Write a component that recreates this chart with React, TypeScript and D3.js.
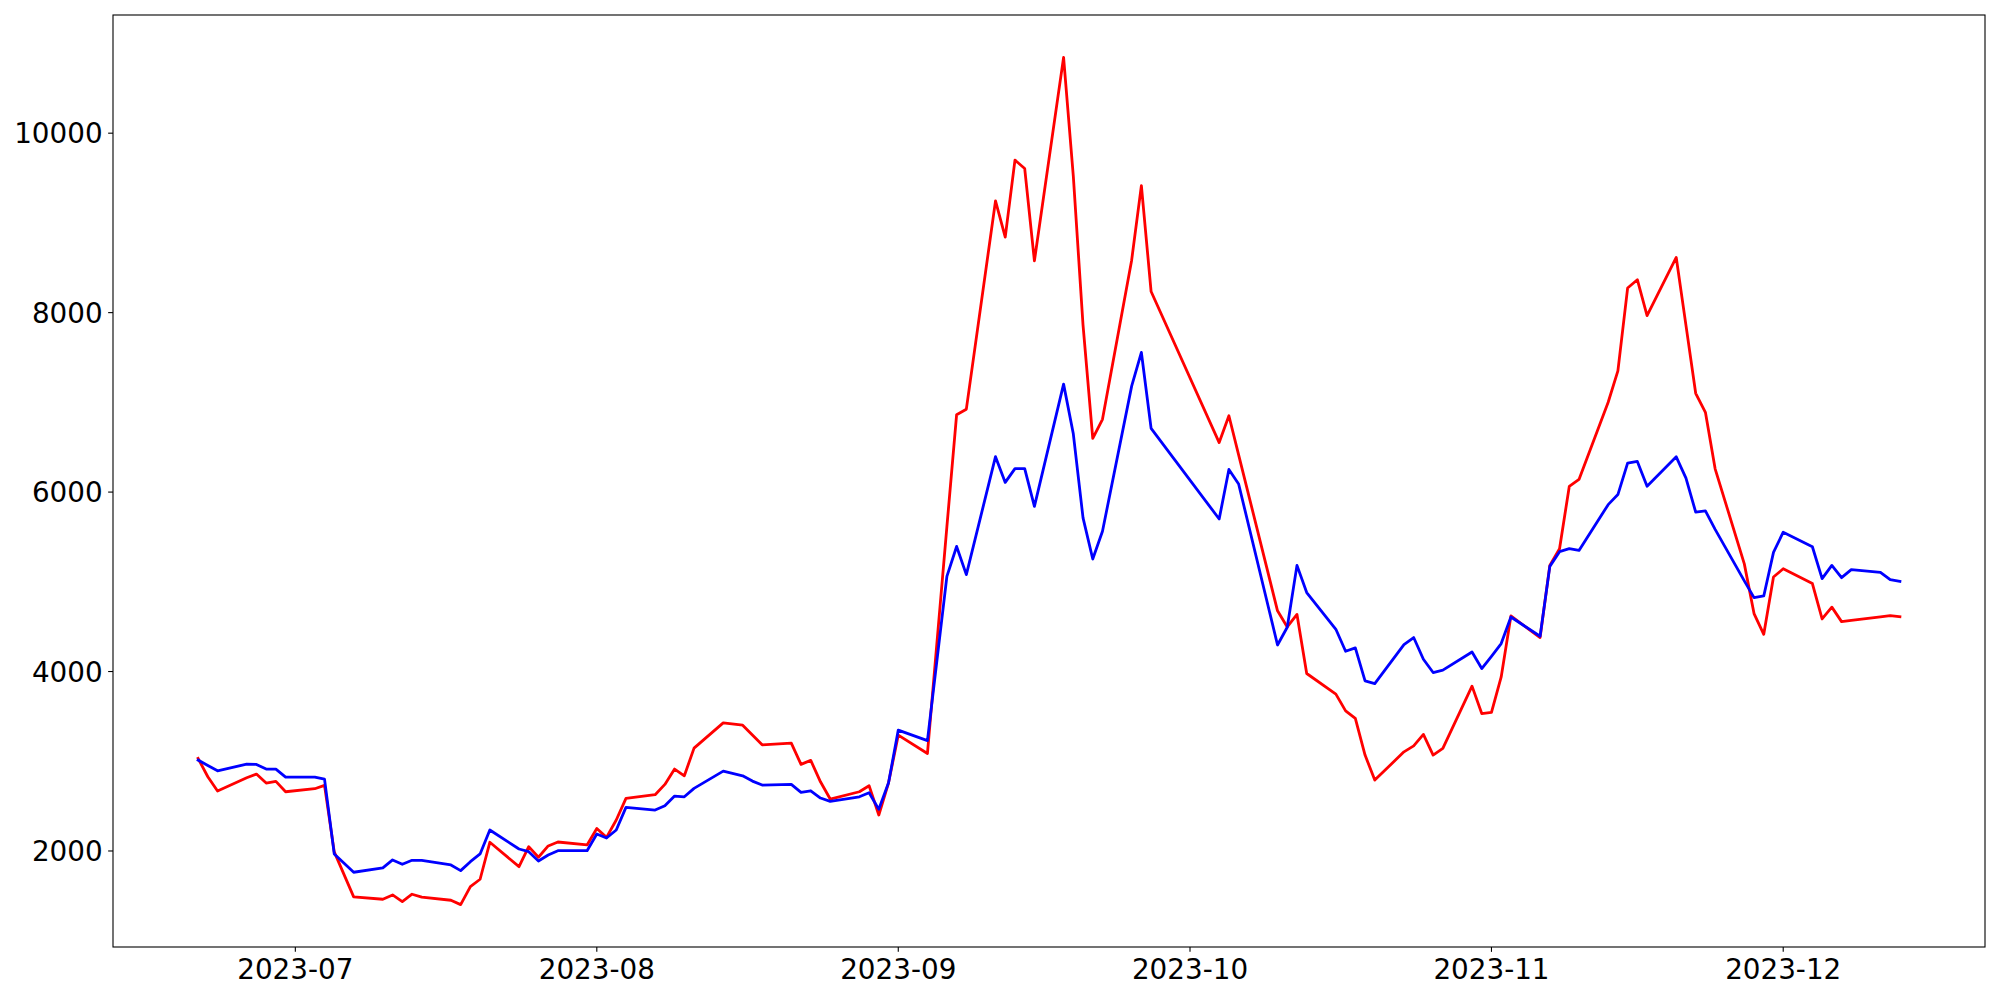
import React from "react";
import * as d3 from "d3";

const dates: string[] = [
  "2023-06-21","2023-06-22","2023-06-23","2023-06-26","2023-06-27","2023-06-28","2023-06-29","2023-06-30",
  "2023-07-03","2023-07-04","2023-07-05","2023-07-07","2023-07-10","2023-07-11","2023-07-12","2023-07-13","2023-07-14",
  "2023-07-17","2023-07-18","2023-07-19","2023-07-20","2023-07-21","2023-07-24","2023-07-25","2023-07-26","2023-07-27","2023-07-28",
  "2023-07-31","2023-08-01","2023-08-02","2023-08-03","2023-08-04","2023-08-07","2023-08-08","2023-08-09","2023-08-10","2023-08-11",
  "2023-08-14","2023-08-16","2023-08-17","2023-08-18","2023-08-21","2023-08-22","2023-08-23","2023-08-24","2023-08-25",
  "2023-08-28","2023-08-29","2023-08-30","2023-08-31","2023-09-01","2023-09-04","2023-09-06","2023-09-07","2023-09-08",
  "2023-09-11","2023-09-12","2023-09-13","2023-09-14","2023-09-15","2023-09-18","2023-09-19","2023-09-20","2023-09-21","2023-09-22",
  "2023-09-25","2023-09-26","2023-09-27","2023-10-04","2023-10-05","2023-10-06","2023-10-10","2023-10-11","2023-10-12","2023-10-13",
  "2023-10-16","2023-10-17","2023-10-18","2023-10-19","2023-10-20","2023-10-23","2023-10-24","2023-10-25","2023-10-26","2023-10-27",
  "2023-10-30","2023-10-31","2023-11-01","2023-11-02","2023-11-03","2023-11-06","2023-11-07","2023-11-08","2023-11-09","2023-11-10",
  "2023-11-13","2023-11-14","2023-11-15","2023-11-16","2023-11-17","2023-11-20","2023-11-21","2023-11-22","2023-11-23","2023-11-24",
  "2023-11-27","2023-11-28","2023-11-29","2023-11-30","2023-12-01","2023-12-04","2023-12-05","2023-12-06","2023-12-07","2023-12-08",
  "2023-12-11","2023-12-12","2023-12-13"
];

const redSeries: number[] = [
  3032,2827,2668,2816,2857,2757,2776,2660,
  2694,2731,1990,1488,1462,1510,1436,1518,1485,
  1451,1402,1603,1685,2097,1825,2048,1930,2056,2100,
  2067,2250,2152,2345,2587,2627,2742,2913,2838,3146,
  3428,3402,3292,3183,3202,2965,3010,2771,2579,
  2660,2727,2401,2760,3291,3087,5614,6862,6924,
  9245,8841,9700,9607,8577,10845,9521,7861,6598,6811,
  8585,9415,8235,6552,6851,6415,4677,4497,4636,3978,
  3748,3562,3477,3069,2790,3105,3172,3299,3069,3143,
  3837,3532,3544,3940,4619,4379,5183,5369,6063,6141,
  7001,7350,8274,8367,7966,8615,7858,7101,6889,6259,
  5200,4646,4415,5053,5145,4980,4586,4718,4556,4570,
  4610,4624,4612
];

const blueSeries: number[] = [
  3013,2953,2894,2968,2965,2913,2913,2824,
  2824,2801,1967,1763,1811,1900,1852,1896,1896,
  1844,1781,1881,1967,2234,2022,1992,1889,1955,2003,
  2003,2190,2145,2234,2486,2456,2504,2612,2604,2698,
  2890,2838,2779,2735,2742,2653,2671,2590,2553,
  2604,2649,2464,2760,3347,3230,5061,5394,5080,
  6395,6108,6262,6262,5840,7203,6649,5713,5254,5564,
  7181,7556,6710,5700,6252,6090,4296,4494,5183,4880,
  4471,4226,4263,3896,3866,4300,4379,4137,3989,4015,
  4218,4033,4170,4312,4608,4393,5172,5336,5369,5350,
  5860,5972,6322,6341,6065,6393,6155,5777,5790,5585,
  5010,4824,4842,5328,5553,5391,5035,5183,5046,5136,
  5106,5024,5005
];

const yTicks: number[] = [2000, 4000, 6000, 8000, 10000];
const xTickLabels: string[] = ["2023-07", "2023-08", "2023-09", "2023-10", "2023-11", "2023-12"];

const W = 2000;
const H = 1000;
const M = { left: 113, right: 1985, top: 15, bottom: 947 };
const FONT = "'DejaVu Sans', sans-serif";
const FS = 27.8;
const TICK = 4.86;

export default function App() {
  const parse = d3.timeParse("%Y-%m-%d");
  const xs = dates.map((d) => parse(d) as Date);

  const [x0, x1] = d3.extent(xs) as [Date, Date];
  const xPad = (x1.getTime() - x0.getTime()) * 0.05;
  const x = d3
    .scaleTime()
    .domain([new Date(x0.getTime() - xPad), new Date(x1.getTime() + xPad)])
    .range([M.left, M.right]);

  const all = redSeries.concat(blueSeries);
  const [y0, y1] = d3.extent(all) as [number, number];
  const yPad = (y1 - y0) * 0.05;
  const y = d3.scaleLinear().domain([y0 - yPad, y1 + yPad]).range([M.bottom, M.top]);

  const line = d3
    .line<number>()
    .x((_, i) => x(xs[i]))
    .y((v) => y(v));

  const xTickDates = xTickLabels.map((s) => parse(s + "-01") as Date);

  return (
    <svg
      width={W}
      height={H}
      viewBox={`0 0 ${W} ${H}`}
      style={{ position: "fixed", left: 0, top: 0, background: "#fff" }}
    >
      <rect x={0} y={0} width={W} height={H} fill="#fff" />
      <path d={line(redSeries) || ""} fill="none" stroke="#ff0000" strokeWidth={2.8} strokeLinejoin="round" strokeLinecap="square" />
      <path d={line(blueSeries) || ""} fill="none" stroke="#0000ff" strokeWidth={2.8} strokeLinejoin="round" strokeLinecap="square" />
      <rect
        x={M.left}
        y={M.top}
        width={M.right - M.left}
        height={M.bottom - M.top}
        fill="none"
        stroke="#000"
        strokeWidth={1.1}
      />
      {yTicks.map((t) => (
        <g key={t}>
          <line x1={M.left - TICK} x2={M.left} y1={y(t)} y2={y(t)} stroke="#000" strokeWidth={1.1} />
          <text
            x={M.left - TICK - 5.5}
            y={y(t) + FS * 0.3645}
            textAnchor="end"
            fontFamily={FONT}
            fontSize={FS}
            fill="#000"
          >
            {t}
          </text>
        </g>
      ))}
      {xTickDates.map((d, i) => (
        <g key={xTickLabels[i]}>
          <line x1={x(d)} x2={x(d)} y1={M.bottom} y2={M.bottom + TICK} stroke="#000" strokeWidth={1.1} />
          <text
            x={x(d)}
            y={M.bottom + 32}
            textAnchor="middle"
            fontFamily={FONT}
            fontSize={FS}
            fill="#000"
          >
            {xTickLabels[i]}
          </text>
        </g>
      ))}
    </svg>
  );
}
